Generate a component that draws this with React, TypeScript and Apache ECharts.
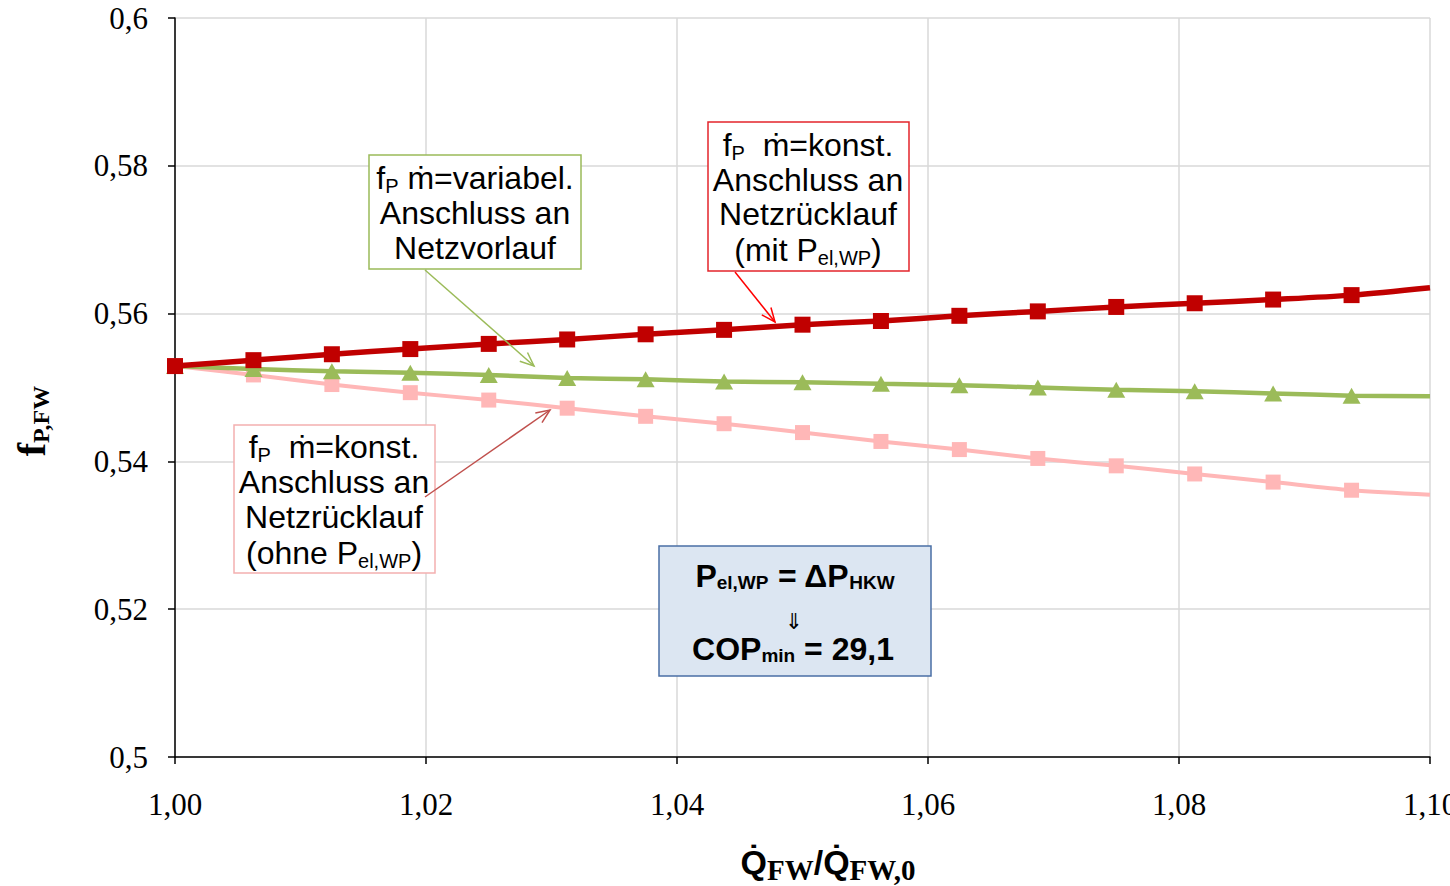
import React, { useEffect, useRef } from "react";
import * as echarts from "echarts";

const X_VALUES = [1.0, 1.00625, 1.0125, 1.01875, 1.025, 1.03125, 1.0375, 1.04375, 1.05, 1.05625, 1.0625, 1.06875, 1.075, 1.08125, 1.0875, 1.09375, 1.1];
const RED_MIT_PEL = [0.5529, 0.5537, 0.5545, 0.5552, 0.5559, 0.5565, 0.5572, 0.5578, 0.5585, 0.559, 0.5597, 0.5603, 0.5609, 0.5614, 0.5619, 0.5625, 0.5635];
const GREEN_VARIABEL = [0.5529, 0.5525, 0.5522, 0.552, 0.5517, 0.5513, 0.5511, 0.5508, 0.5507, 0.5505, 0.5503, 0.55, 0.5497, 0.5495, 0.5492, 0.5489, 0.5488];
const PINK_OHNE_PEL = [0.5529, 0.5517, 0.5504, 0.5493, 0.5483, 0.5472, 0.5461, 0.5451, 0.5439, 0.5427, 0.5416, 0.5404, 0.5394, 0.5383, 0.5372, 0.5361, 0.5355];

const SANS = "'Liberation Sans', Arial, sans-serif";
const SERIF = "'Liberation Serif', 'Times New Roman', serif";

function buildData(ys: number[]) {
  return X_VALUES.map((x, i) =>
    i === X_VALUES.length - 1 ? { value: [x, ys[i]], symbol: "none" } : [x, ys[i]]
  );
}

const annRich = {
  n: { fontFamily: SANS, fontSize: 32, color: "#000", lineHeight: 36, verticalAlign: "middle" },
  s: { fontFamily: SANS, fontSize: 20, color: "#000", verticalAlign: "bottom" },
  b: { fontFamily: SANS, fontSize: 32, fontWeight: "bold", color: "#000", lineHeight: 32, verticalAlign: "middle" },
  bs: { fontFamily: SANS, fontSize: 19, fontWeight: "bold", color: "#000", verticalAlign: "bottom" },
  a: { fontFamily: "'DejaVu Sans', sans-serif", fontSize: 22, lineHeight: 20, color: "#000" },
  q: { fontFamily: SANS, fontSize: 34, fontWeight: "bold", color: "#000", lineHeight: 44, verticalAlign: "middle" },
  qs: { fontFamily: SERIF, fontSize: 29, fontWeight: "bold", color: "#000", verticalAlign: "bottom" },
  f: { fontFamily: SERIF, fontSize: 40, fontWeight: "bold", color: "#000", lineHeight: 44, verticalAlign: "middle" },
  fs: { fontFamily: SERIF, fontSize: 24, fontWeight: "bold", color: "#000", verticalAlign: "bottom" },
};

function txt(text: string, x: number, y: number, rotation = 0) {
  return {
    type: "text",
    z: 100,
    x,
    y,
    rotation,
    style: {
      text,
      x: 0,
      y: 0,
      align: "center",
      textAlign: "center",
      verticalAlign: "middle",
      textVerticalAlign: "middle",
      rich: annRich,
    },
  };
}

function box(x: number, y: number, w: number, h: number, stroke: string, fill = "#fff") {
  return {
    type: "rect",
    z: 90,
    shape: { x, y, width: w, height: h },
    style: { fill, stroke, lineWidth: 1.5 },
  };
}

function arrow(x1: number, y1: number, x2: number, y2: number, color: string) {
  const ang = Math.atan2(y2 - y1, x2 - x1);
  const L = 15;
  const spread = 0.4;
  const a1 = ang + Math.PI - spread;
  const a2 = ang + Math.PI + spread;
  return [
    {
      type: "line",
      z: 95,
      shape: { x1, y1, x2, y2 },
      style: { stroke: color, lineWidth: 1.5 },
    },
    {
      type: "polyline",
      z: 95,
      shape: {
        points: [
          [x2 + L * Math.cos(a1), y2 + L * Math.sin(a1)],
          [x2, y2],
          [x2 + L * Math.cos(a2), y2 + L * Math.sin(a2)],
        ],
      },
      style: { stroke: color, lineWidth: 1.5, fill: "none" },
    },
  ];
}

export default function App() {
  const ref = useRef<HTMLDivElement>(null);
  useEffect(() => {
    document.body.style.margin = "0";
    if (!ref.current) return;
    const chart = echarts.init(ref.current, null, { renderer: "svg", width: 1450, height: 886 });
    const option: any = {
      animation: false,
      backgroundColor: "#fff",
      grid: { left: 175, right: 20, top: 18, bottom: 129, containLabel: false, outerBoundsMode: "none" },
      xAxis: {
        type: "value",
        min: 1.0,
        max: 1.1,
        interval: 0.02,
        axisLine: { show: true, lineStyle: { color: "#000", width: 1.5 } },
        axisTick: { show: true, length: 7, lineStyle: { color: "#000", width: 1.5 } },
        splitLine: { show: true, lineStyle: { color: "#D9D9D9", width: 1.5 } },
        axisLabel: {
          fontFamily: SERIF,
          fontSize: 31,
          color: "#000",
          margin: 32,
          formatter: (v: number) => v.toFixed(2).replace(".", ","),
        },
      },
      yAxis: {
        type: "value",
        min: 0.5,
        max: 0.6,
        interval: 0.02,
        axisLine: { show: true, lineStyle: { color: "#000", width: 1.5 } },
        axisTick: { show: true, length: 7, lineStyle: { color: "#000", width: 1.5 } },
        splitLine: { show: true, lineStyle: { color: "#D9D9D9", width: 1.5 } },
        axisLabel: {
          fontFamily: SERIF,
          fontSize: 31,
          color: "#000",
          margin: 27,
          formatter: (v: number) => String(+v.toFixed(2)).replace(".", ","),
        },
      },
      series: [
        {
          name: "ohne Pel,WP",
          type: "line",
          smooth: 0.3,
          showAllSymbol: true,
          symbol: "rect",
          symbolSize: 15,
          data: buildData(PINK_OHNE_PEL),
          lineStyle: { color: "#FFB7B7", width: 4 },
          itemStyle: { color: "#FFB7B7" },
          z: 2,
        },
        {
          name: "variabel",
          type: "line",
          smooth: 0.3,
          showAllSymbol: true,
          symbol: "triangle",
          symbolSize: [18, 16],
          data: buildData(GREEN_VARIABEL),
          lineStyle: { color: "#9BBB59", width: 4.5 },
          itemStyle: { color: "#9BBB59" },
          z: 3,
        },
        {
          name: "mit Pel,WP",
          type: "line",
          smooth: 0.3,
          showAllSymbol: true,
          symbol: "rect",
          symbolSize: 16,
          data: buildData(RED_MIT_PEL),
          lineStyle: { color: "#C00000", width: 5.5 },
          itemStyle: { color: "#C00000" },
          z: 4,
        },
      ],
      graphic: [
        ...arrow(425, 270, 534, 366, "#9BBB59"),
        ...arrow(735, 272, 775, 322, "#FF0000"),
        ...arrow(425, 497, 550, 410, "#C0504D"),
        box(369, 155, 212, 114, "#9BBB59"),
        txt("{n|f}{s|P}{n| ṁ=variabel.}", 475, 178),
        txt("{n|Anschluss an}", 475, 213),
        txt("{n|Netzvorlauf}", 475, 248),
        box(708, 122, 201, 149, "#E3242B"),
        txt("{n|f}{s|P}{n|  ṁ=konst.}", 808, 145),
        txt("{n|Anschluss an}", 808, 180),
        txt("{n|Netzrücklauf}", 808, 214),
        txt("{n|(mit P}{s|el,WP}{n|)}", 808, 250),
        box(234, 425, 201, 148, "#F4B0B0"),
        txt("{n|f}{s|P}{n|  ṁ=konst.}", 334, 447),
        txt("{n|Anschluss an}", 334, 482),
        txt("{n|Netzrücklauf}", 334, 517),
        txt("{n|(ohne P}{s|el,WP}{n|)}", 334, 553),
        box(659, 546, 272, 130, "#4A6FA5", "#DCE6F2"),
        txt("{b|P}{bs|el,WP}{b| = \u0394P}{bs|HKW}", 795, 576),
        txt("{a|\u21D3}", 794, 621),
        txt("{b|COP}{bs|min}{b| = 29,1}", 793, 649),
        txt("{q|Q\u0307}{qs|FW}{q|/Q\u0307}{qs|FW,0}", 828, 862),
        txt("{f|f}{fs|P,FW}", 31, 421, Math.PI / 2),
      ],
    };
    chart.setOption(option);
    return () => chart.dispose();
  }, []);
  return (
    <div
      ref={ref}
      style={{ position: "fixed", left: 0, top: 0, width: 1450, height: 886, overflow: "hidden" }}
    />
  );
}
